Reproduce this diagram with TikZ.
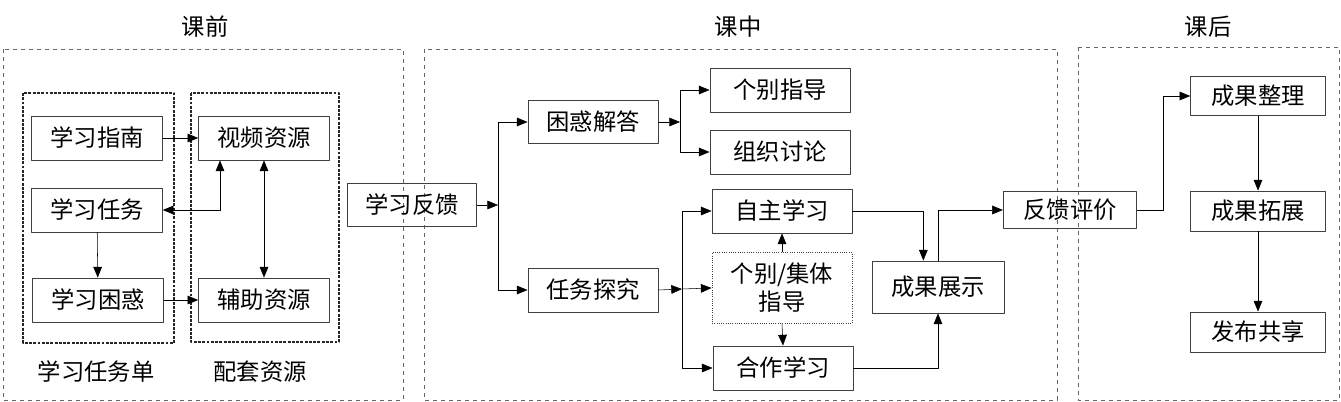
\documentclass[tikz,border=0pt]{standalone}
\usepackage{fontspec}
\setmainfont{Noto Sans CJK SC}
\usetikzlibrary{arrows.meta}
\begin{document}
\begin{tikzpicture}[x=.75pt, y=-.75pt, font=\fontsize{17.5}{21}\selectfont, line join=round, >={Triangle[length=8pt,width=6.5pt]},
    box/.style={draw=black!75, line width=.7pt, minimum width=98pt, minimum height=33pt, inner sep=0pt},
    panel/.style={draw=black!60, dashed, line width=.6pt},
    group/.style={draw=black!85, densely dotted, line width=2.2pt}]
    \useasboundingbox (0,0) rectangle (1341,402);
    % panels
    \draw[panel] (3,49) rectangle (403,400);
    \draw[panel] (424,49) rectangle (1057,400);
    \draw[panel] (1078,47) rectangle (1339,400);
    \draw[group] (23,93) rectangle (174,343);
    \draw[group] (191,93) rectangle (339,342);
    \path
    node (tq) at (205,27) {课前}
    node (tz0) at (738,27) {课中}
    node (th) at (1208,27) {课后}
    node (ld) at (96,372) {学习任务单}
    node (pt) at (260,372) {配套资源};
    % before class
    \node[box] (zn) at (97,138) {学习指南};
    \node[box] (rw) at (97,210) {学习任务};
    \node[box] (kh) at (98,300) {学习困惑};
    \node[box] (sp) at (264,138) {视频资源};
    \node[box] (fz) at (264,300) {辅助资源};
    \node[box, minimum width=97pt, minimum height=32pt] (fk) at (412,205) {学习反馈};
    % in class
    \node[box, minimum width=97.5pt, minimum height=32pt] (jd) at (593,122) {困惑解答};
    \node[box, minimum width=97.5pt, minimum height=33pt] (tj) at (593,290) {任务探究};
    \node[box, minimum width=105pt] (gb) at (780,90) {个别指导};
    \node[box, minimum width=105pt] (tl) at (780,152) {组织讨论};
    \node[box, minimum width=105pt] (zz) at (782,211) {自主学习};
    \node[box, minimum width=105pt, minimum height=53pt, densely dotted, align=center] (gj) at (782,288) {个别/集体\\指导};
    \node[box, minimum width=105pt] (hz) at (783,368) {合作学习};
    \node[box, minimum width=99pt, minimum height=39pt] (cg) at (938,287) {成果展示};
    \node[box, minimum width=100pt, minimum height=28pt] (pj) at (1070,210) {反馈评价};
    % after class
    \node[box, minimum width=101pt, minimum height=29pt] (zl) at (1258,96) {成果整理};
    \node[box, minimum width=101pt, minimum height=30pt] (tz) at (1258,211) {成果拓展};
    \node[box, minimum width=101pt, minimum height=30pt] (fb) at (1258,332) {发布共享};
    \coordinate (j1) at (498,205);
    \coordinate (j2) at (680,122);
    \coordinate (j3) at (682,289);
    % connectors
    \draw[->] (zn.east) -- (sp.west);
    \draw[->] (kh.east) -- (fz.west);
    \draw[<->] (rw.east) -| ([xshift=-33pt]sp.south);
    \draw[<->] (sp.south) -- (fz.north);
    \draw[->] (rw) -- (kh);
    \draw[->] (fk.east) -- (j1);
    \draw[->] (j1) |- (jd.west);
    \draw[->] (j1) |- (tj.west);
    \draw[->] (jd.east) -- (j2);
    \draw[->] (j2) |- (gb.west);
    \draw[->] (j2) |- (tl.west);
    \draw[->] (tj.east) -- (j3);
    \draw[->] (j3) |- (zz.west);
    \draw[->] (j3) -- (gj.west);
    \draw[->] (j3) |- (hz.west);
    \draw[->] (gj.north) -- (zz.south);
    \draw[->] (gj.south) -- (hz.north);
    \draw[->] (zz.east) -| ([xshift=-11pt]cg.north);
    \draw[->] (hz.east) -| (cg.south);
    \draw[->] (cg.north) |- (pj.west);
    \draw[->] (pj.east) -- ++(26,0) |- (zl.west);
    \draw[->] (zl) -- (tz);
    \draw[->] (tz) -- (fb);
\end{tikzpicture}
\end{document}
